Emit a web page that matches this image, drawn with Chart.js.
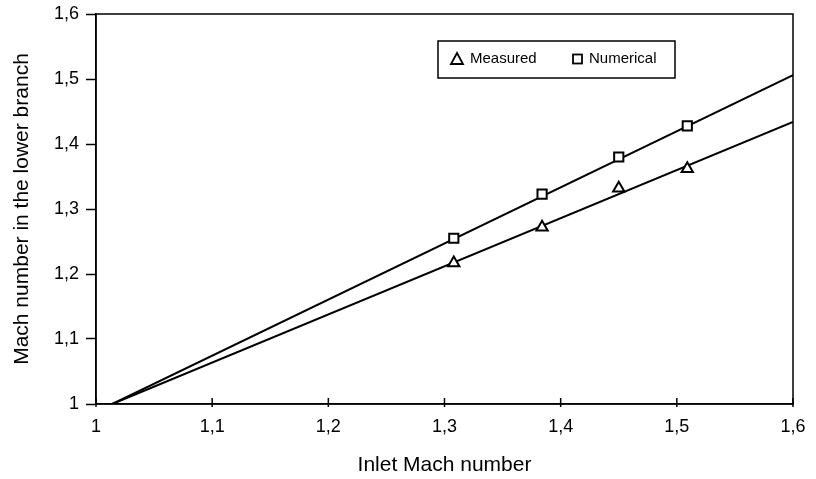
<!DOCTYPE html>
<html lang="en">
  <head>
    <meta charset="UTF-8" />
    <title>Mach number in the lower branch</title>
    <style>
      body { margin: 0; background: #fff; }
      #wrap { width: 816px; height: 479px; }
    </style>
  </head>
  <body>
    <div id="wrap"><canvas id="myChart"></canvas></div>
    <script src="https://cdn.jsdelivr.net/npm/chart.js@4.4.0/dist/chart.umd.min.js"></script>
    <script>
      // values
      const inletMach = [1.308, 1.384, 1.45, 1.509];
      const measured = [1.217, 1.272, 1.332, 1.362];
      const numerical = [1.255, 1.323, 1.38, 1.428];
      // straight fit lines (start and end)
      const fitX = [1.014, 1.6];
      const measuredFit = [1, 1.434];
      const numericalFit = [1, 1.506];
      const xTicks = [1, 1.1, 1.2, 1.3, 1.4, 1.5, 1.6];

      const pts = (xs, ys) => xs.map((x, i) => ({ x: x, y: ys[i] }));
      const fmt = v => (Math.abs(v - 1) < 1e-9 ? "1" : v.toFixed(1).replace(".", ","));
      const font = "'Liberation Sans', Arial, sans-serif";

      // frame, inward x ticks, legend box
      const extras = {
        id: "extras",
        afterDraw(chart) {
          const { ctx, chartArea: a } = chart;
          const xs = chart.scales.x;
          ctx.save();
          ctx.strokeStyle = "#000";
          ctx.lineWidth = 1.5;
          ctx.strokeRect(a.left, a.top, a.right - a.left, a.bottom - a.top);
          xTicks.forEach(v => {
            const px = xs.getPixelForValue(v);
            ctx.beginPath();
            ctx.moveTo(px, a.bottom + 3);
            ctx.lineTo(px, a.bottom - 6);
            ctx.stroke();
          });
          // legend
          const lx = a.left + 342, ly = a.top + 27;
          ctx.lineWidth = 1.5;
          ctx.strokeRect(lx, ly, 237, 37);
          ctx.lineWidth = 1.8;
          const ty = ly + 18;
          ctx.beginPath();
          ctx.moveTo(lx + 19, ty - 6);
          ctx.lineTo(lx + 25, ty + 5);
          ctx.lineTo(lx + 13, ty + 5);
          ctx.closePath();
          ctx.stroke();
          ctx.strokeRect(lx + 135, ty - 4.5, 9, 9);
          ctx.fillStyle = "#000";
          ctx.font = "15px " + font;
          ctx.textBaseline = "middle";
          ctx.fillText("Measured", lx + 32, ty);
          ctx.fillText("Numerical", lx + 151, ty);
          ctx.restore();
        }
      };

      const ctx = document.getElementById("myChart").getContext("2d");
      const chart = new Chart(ctx, {
        type: "scatter",
        data: {
          datasets: [
            {
              label: "Measured",
              data: pts(inletMach, measured),
              pointStyle: "triangle",
              pointRadius: 6.5,
              borderColor: "#000",
              backgroundColor: "#fff",
              borderWidth: 2,
              order: 0
            },
            {
              label: "Numerical",
              data: pts(inletMach, numerical),
              pointStyle: "rect",
              pointRadius: 6.5,
              borderColor: "#000",
              backgroundColor: "#fff",
              borderWidth: 2,
              order: 0
            },
            {
              label: "Measured fit",
              data: pts(fitX, measuredFit),
              showLine: true,
              pointRadius: 0,
              borderColor: "#000",
              borderWidth: 2,
              order: 1
            },
            {
              label: "Numerical fit",
              data: pts(fitX, numericalFit),
              showLine: true,
              pointRadius: 0,
              borderColor: "#000",
              borderWidth: 2,
              order: 1
            }
          ]
        },
        options: {
          responsive: true,
          maintainAspectRatio: false,
          animation: false,
          layout: { padding: { left: 0, right: 23, top: 14, bottom: 0 } },
          plugins: { legend: { display: false }, tooltip: { enabled: false } },
          scales: {
            x: {
              type: "linear",
              min: 1,
              max: 1.6,
              afterBuildTicks: s => { s.ticks = xTicks.map(v => ({ value: v })); },
              afterFit: s => { s.height = 75; s.paddingLeft = 0; s.paddingRight = 0; },
              border: { display: true, color: "#000", width: 1.5 },
              grid: { drawOnChartArea: false, drawTicks: false },
              ticks: { color: "#000", padding: 12, font: { family: font, size: 18 }, callback: fmt },
              title: {
                display: true,
                text: "Inlet Mach number",
                color: "#000",
                font: { family: font, size: 21 },
                padding: { top: 0, bottom: 1 }
              }
            },
            y: {
              type: "linear",
              min: 1,
              max: 1.6,
              afterBuildTicks: s => { s.ticks = xTicks.map(v => ({ value: v })); },
              afterFit: s => { s.width = 96; s.paddingTop = 0; s.paddingBottom = 0; },
              border: { display: true, color: "#000", width: 1.5 },
              grid: { drawOnChartArea: false, drawTicks: true, tickLength: 10, color: "#000", tickWidth: 1.5 },
              ticks: { color: "#000", padding: 7, font: { family: font, size: 18 }, callback: fmt },
              title: {
                display: true,
                text: "Mach number in the lower branch",
                color: "#000",
                font: { family: font, size: 21 },
                padding: { top: 10, bottom: 0 }
              }
            }
          }
        },
        plugins: [extras]
      });
    </script>
  </body>
</html>
